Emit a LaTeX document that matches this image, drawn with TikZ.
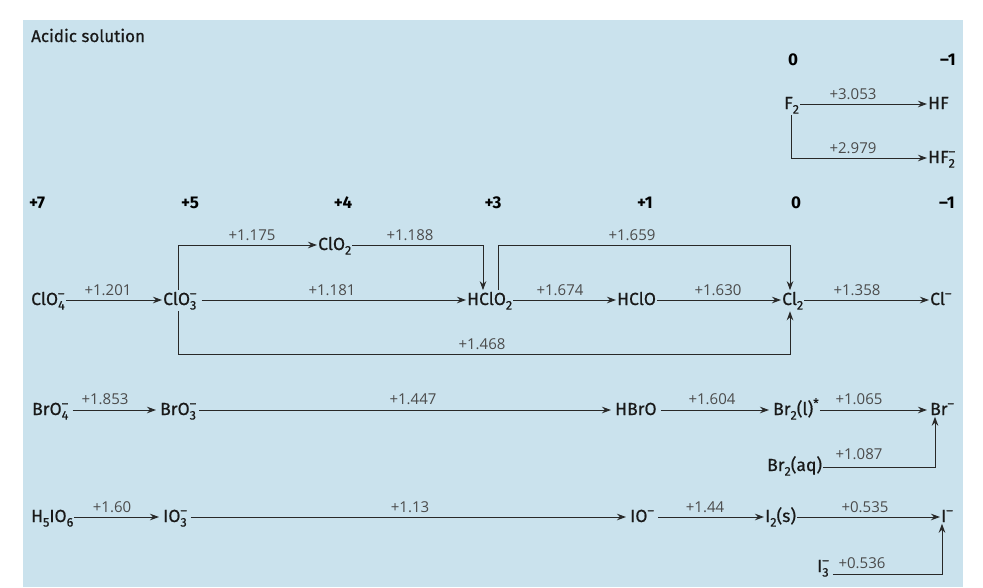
\documentclass[tikz,border=0pt]{standalone}
\usepackage{fontspec}
\setmainfont{Fira Sans}
\newfontfamily\spfam{Fira Sans}[FakeBold=0.6]
\newfontfamily\valfam{Open Sans}
\usetikzlibrary{arrows.meta}
\definecolor{panel}{RGB}{202,226,237}
\definecolor{linec}{RGB}{40,40,40}
\definecolor{spc}{RGB}{25,25,25}
\definecolor{valc}{RGB}{75,75,75}
\newcommand{\spfont}{\spfam\fontsize{17.5}{20}\selectfont}
\newcommand{\oxfont}{\bfseries\fontsize{17}{19}\selectfont}
\newcommand{\valfont}{\valfam\fontsize{15}{17}\selectfont}
\newcommand{\ssub}[1]{\raisebox{-0.26em}{\fontsize{12.5}{12.5}\selectfont #1}}
\newcommand{\ssup}[1]{\raisebox{0.42em}{\fontsize{12.5}{12.5}\selectfont #1}}
\newcommand{\ssb}[2]{\makebox[0pt][l]{\raisebox{0.42em}{\fontsize{12.5}{12.5}\selectfont #2}}\raisebox{-0.26em}{\fontsize{12.5}{12.5}\selectfont #1}}
\tikzset{
  sp/.style={anchor=base west, inner xsep=1pt, inner ysep=1.5pt, font=\spfont, text=spc},
  ox/.style={anchor=base, inner sep=0pt, font=\oxfont, text=black},
  val/.style={anchor=base, inner sep=0pt, font=\valfont, text=valc},
  arr/.style={draw=linec, line width=1pt, -{Stealth[length=9pt,width=6.5pt]}},
}
\begin{document}
\begin{tikzpicture}[x=1pt,y=-1pt]
\useasboundingbox (0,0) rectangle (983,587);
\fill[white] (0,0) rectangle (983,587);
\fill[panel] (23,20) rectangle (963,587);
% y levels and x positions of connector corners
\coordinate (yF1) at (0,104);
\coordinate (yF2) at (0,158);
\coordinate (yC) at (0,300);
\coordinate (yCu) at (0,245);
\coordinate (yCd) at (0,354);
\coordinate (yB) at (0,410);
\coordinate (yBa) at (0,467);
\coordinate (yI) at (0,517);
\coordinate (yIa) at (0,574);
\coordinate (xF) at (791,0);
\coordinate (xa) at (178,0);
\coordinate (xb) at (483,0);
\coordinate (xc) at (498,0);
\coordinate (xd) at (790,0);
\coordinate (xe) at (935,0);
\coordinate (xf) at (942,0);
% title
\node[anchor=base west, inner sep=0pt, font=\spfam\fontsize{17}{20}\selectfont, text=spc] (title) at (31,42) {Acidic solution};
% oxidation states
\node[ox] (oT0) at (793,65) {0};
\node[ox] (oTm) at (948,65) {–1};
\node[ox] (o7) at (37,208) {+7};
\node[ox] (o5) at (190,208) {+5};
\node[ox] (o4) at (343,208) {+4};
\node[ox] (o3) at (493,208) {+3};
\node[ox] (o1) at (645,208) {+1};
\node[ox] (o0) at (796,208) {0};
\node[ox] (om) at (947,208) {–1};
% fluorine
\node[sp] (F2) at (783,109) {F\ssub{2}};
\node[sp] (HF) at (927,109) {HF};
\node[sp] (HF2) at (927,163) {HF\ssb{2}{–}};
\draw[arr] (F2.east |- yF1) -- (HF.west |- yF1);
\draw[arr] (F2.south -| xF) |- (HF2.west |- yF2);
\node[val] (vF1) at (853,99) {+3.053};
\node[val] (vF2) at (853,153) {+2.979};
% chlorine
\node[sp] (ClO4) at (30,305) {ClO\ssb{4}{–}};
\node[sp] (ClO3) at (162,305) {ClO\ssb{3}{–}};
\node[sp] (ClO2) at (317,250) {ClO\ssub{2}};
\node[sp] (HClO2) at (466,305) {HClO\ssub{2}};
\node[sp] (HClO) at (616,305) {HClO};
\node[sp] (Cl2) at (781,305) {Cl\ssub{2}};
\node[sp] (Clm) at (929,305) {Cl\ssup{–}};
\draw[arr] (ClO4.east |- yC) -- (ClO3.west |- yC);
\draw[arr] ([xshift=4pt]ClO3.east |- yC) -- (HClO2.west |- yC);
\draw[arr] (ClO3.north -| xa) |- (ClO2.west |- yCu);
\draw[arr] (ClO2.east |- yCu) -| (HClO2.north -| xb);
\draw[arr] (HClO2.north -| xc) |- (xd |- yCu) -- (Cl2.north -| xd);
\draw[arr] (ClO3.south -| xa) |- (xd |- yCd) -- (Cl2.south -| xd);
\draw[arr] (HClO2.east |- yC) -- (HClO.west |- yC);
\draw[arr] (HClO.east |- yC) -- (Cl2.west |- yC);
\draw[arr] (Cl2.east |- yC) -- (Clm.west |- yC);
\node[val] (v1201) at (108,295) {+1.201};
\node[val] (v1175) at (252,240) {+1.175};
\node[val] (v1188) at (410,240) {+1.188};
\node[val] (v1181) at (332,295) {+1.181};
\node[val] (v1659) at (632,240) {+1.659};
\node[val] (v1674) at (560,295) {+1.674};
\node[val] (v1630) at (718,295) {+1.630};
\node[val] (v1358) at (857,295) {+1.358};
\node[val] (v1468) at (482,349) {+1.468};
% bromine
\node[sp] (BrO4) at (31,415) {BrO\ssb{4}{–}};
\node[sp] (BrO3) at (159,415) {BrO\ssb{3}{–}};
\node[sp] (HBrO) at (614,415) {HBrO};
\node[sp] (Br2l) at (772,415) {Br\ssub{2}(l)\ssup{*}};
\node[sp] (Brm) at (929,415) {Br\ssup{–}};
\node[sp] (Br2aq) at (766,471) {Br\ssub{2}(aq)};
\draw[arr] ([xshift=3pt]BrO4.east |- yB) -- ([xshift=-3pt]BrO3.west |- yB);
\draw[arr] ([xshift=2pt]BrO3.east |- yB) -- ([xshift=-3pt]HBrO.west |- yB);
\draw[arr] ([xshift=3pt]HBrO.east |- yB) -- ([xshift=-3pt]Br2l.west |- yB);
\draw[arr] (Br2l.east |- yB) -- ([xshift=-2pt]Brm.west |- yB);
\draw[arr] (Br2aq.east |- yBa) -| (Brm.south -| xe);
\node[val] (v1853) at (105,404) {+1.853};
\node[val] (v1447) at (413,404) {+1.447};
\node[val] (v1604) at (712,404) {+1.604};
\node[val] (v1065) at (859,404) {+1.065};
\node[val] (v1087) at (859,459) {+1.087};
% iodine
\node[sp] (H5IO6) at (30,522) {H\ssub{5}IO\ssub{6}};
\node[sp] (IO3) at (162,522) {IO\ssb{3}{–}};
\node[sp] (IOm) at (629,522) {IO\ssup{–}};
\node[sp] (I2s) at (764,522) {I\ssub{2}(s)};
\node[sp] (Im) at (940,522) {I\ssup{–}};
\node[sp] (I3) at (816,572) {I\ssb{3}{–}};
\draw[arr] (H5IO6.east |- yI) -- ([xshift=-3pt]IO3.west |- yI);
\draw[arr] ([xshift=3pt]IO3.east |- yI) -- ([xshift=-3pt]IOm.west |- yI);
\draw[arr] ([xshift=3pt]IOm.east |- yI) -- (I2s.west |- yI);
\draw[arr] (I2s.east |- yI) -- (Im.west |- yI);
\draw[arr] ([xshift=3pt]I3.east |- yIa) -| (Im.south -| xf);
\node[val] (v160) at (112,512) {+1.60};
\node[val] (v113) at (410,512) {+1.13};
\node[val] (v144) at (705,512) {+1.44};
\node[val] (v0535) at (865,512) {+0.535};
\node[val] (v0536) at (862,568) {+0.536};
\end{tikzpicture}
\end{document}
